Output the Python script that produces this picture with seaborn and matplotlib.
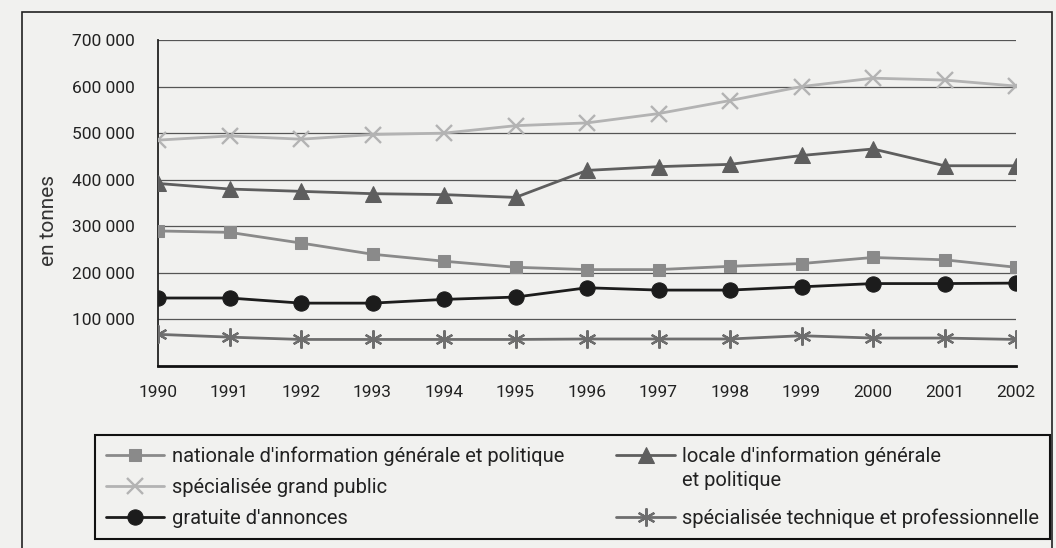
import matplotlib
matplotlib.use("Agg")
import matplotlib.pyplot as plt
from matplotlib.lines import Line2D
from matplotlib.patches import Rectangle
from matplotlib.ticker import FuncFormatter
import seaborn as sns

# data (tonnes)
years = list(range(1990, 2003))
nationale = [290000, 287000, 264000, 240000, 225000, 212000, 207000, 207000, 214000, 220000, 233000, 228000, 212000]
locale = [392000, 380000, 375000, 370000, 368000, 362000, 420000, 428000, 433000, 452000, 466000, 430000, 430000]
grand_public = [485000, 494000, 487000, 497000, 500000, 516000, 522000, 542000, 570000, 600000, 618000, 614000, 601000]
gratuite = [146000, 146000, 135000, 135000, 143000, 148000, 168000, 163000, 163000, 170000, 177000, 177000, 178000]
technique = [68000, 62000, 57000, 57000, 57000, 57000, 58000, 58000, 58000, 65000, 60000, 60000, 57000]

W, H = 1056, 548
bg = "#f1f1ef"
sns.set_style("white")
plt.rcParams['font.family'] = ['Roboto', 'DejaVu Sans']

fig = plt.figure(figsize=(W / 100, H / 100), dpi=100, facecolor=bg)
ax = fig.add_axes([158/W, 1 - 366/H, (1016 - 158)/W, (366 - 40)/H])
ax.set_facecolor(bg)

for v in range(100000, 700001, 100000):
    ax.axhline(v, color="#555555", lw=0.9, zorder=1)

sns.lineplot(x=years, y=nationale, ax=ax, color="#8a8a8a", lw=2, marker="s", markersize=9,
             markeredgecolor="#8a8a8a", label="nationale d'information générale et politique", zorder=3)
sns.lineplot(x=years, y=locale, ax=ax, color="#5e5e5e", lw=2, marker="^", markersize=12,
             markeredgecolor="#5e5e5e", label="locale d'information générale", zorder=3)
sns.lineplot(x=years, y=grand_public, ax=ax, color="#b3b3b3", lw=2, marker="x", markersize=11,
             markeredgecolor="#b3b3b3", markeredgewidth=1.7, label="spécialisée grand public", zorder=3)
sns.lineplot(x=years, y=gratuite, ax=ax, color="#1c1c1c", lw=2, marker="o", markersize=11,
             markeredgecolor="#1c1c1c", label="gratuite d'annonces", zorder=3)
sns.lineplot(x=years, y=technique, ax=ax, color="#6e6e6e", lw=2, marker=(6, 2, 0), markersize=13,
             markeredgecolor="#6e6e6e", markeredgewidth=1.6,
             label="spécialisée technique et professionnelle", zorder=3)
ax.get_legend().remove()

ax.set_xlim(1990, 2002)
ax.set_ylim(0, 700000)
ax.set_xticks(years)
ax.set_yticks(range(100000, 700001, 100000))
ax.yaxis.set_major_formatter(FuncFormatter(lambda v, p: f"{int(v):,}".replace(",", " ")))
ax.tick_params(axis="both", labelsize=12.5, colors="#222222", length=4.5, width=1.2)
ax.tick_params(axis="x", pad=9)
ax.tick_params(axis="y", pad=12)
for s in ["top", "right"]:
    ax.spines[s].set_visible(False)
ax.spines["left"].set_linewidth(1.3)
ax.spines["bottom"].set_linewidth(2)
ax.spines["left"].set_color("#222222")
ax.spines["bottom"].set_color("#111111")
ax.set_xlabel("")
ax.set_ylabel("")
fig.text(48/W, 1 - 220/H, "en tonnes", rotation=90, ha="center", va="center",
         fontsize=15, color="#333333")

# legend, laid out like the original (second line of the "locale" label on the row below)
h = {l.get_label(): l for l in ax.get_lines() if not l.get_label().startswith("_")}
blank = Line2D([], [], linestyle="none", marker=None)
handles = [h["nationale d'information générale et politique"], h["spécialisée grand public"],
           h["gratuite d'annonces"], h["locale d'information générale"], blank,
           h["spécialisée technique et professionnelle"]]
labels = ["nationale d'information générale et politique", "spécialisée grand public",
          "gratuite d'annonces", "locale d'information générale", " ",
          "spécialisée technique et professionnelle"]
leg = fig.legend(handles, labels, ncol=2, loc="upper left",
                 bbox_to_anchor=(95/W, 1 - 537/H, (1050 - 95)/W, (537 - 435)/H),
                 mode="expand", fontsize=14.5, frameon=True, fancybox=False, facecolor=bg,
                 framealpha=1, edgecolor="#111111", handlelength=2.9, handletextpad=0.35,
                 labelspacing=0.6, borderpad=0.55, borderaxespad=0, labelcolor="#222222")
leg.get_frame().set_linewidth(1.5)

fig.canvas.draw()
bb = leg.get_texts()[3].get_window_extent()
fig.text(bb.x0 / W, (bb.y0 + bb.y1) / 2 / H - 25 / H, "et politique", ha="left", va="center",
         fontsize=14.5, color="#222222", zorder=10)

fig.add_artist(Rectangle((22/W, -0.02), (1052 - 22)/W, 1.02 - 12/H, transform=fig.transFigure,
                         fill=False, edgecolor="#222222", lw=1.2))

fig.savefig("out.png", dpi=100, facecolor=bg)
